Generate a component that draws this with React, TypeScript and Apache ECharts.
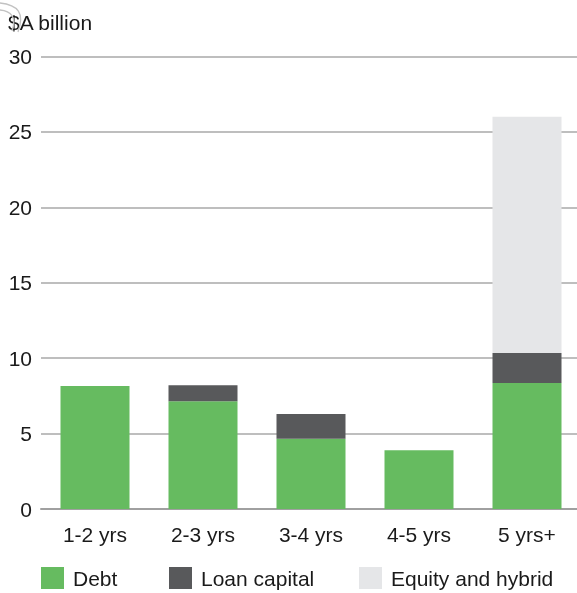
import React, { useEffect, useRef } from "react";
import * as echarts from "echarts";

const categories = ["1-2 yrs", "2-3 yrs", "3-4 yrs", "4-5 yrs", "5 yrs+"];
const debt = [8.15, 7.15, 4.65, 3.9, 8.35];
const loanCapital = [0, 1.05, 1.65, 0, 2.0];
const equityHybrid = [0, 0, 0, 0, 15.65];
const seriesNames = ["Debt", "Loan capital", "Equity and hybrid"];
const colors = ["#66bb60", "#58595b", "#e5e6e8"];
const yTicks = { min: 0, max: 30, interval: 5 };
const legendLefts = [41, 169, 359];

const FONT = "'Liberation Sans', Arial, Helvetica, sans-serif";
const TEXT = "#1a1a1a";

export default function App() {
  const ref = useRef<HTMLDivElement>(null);
  useEffect(() => {
    if (!ref.current) return;
    const chart = echarts.init(ref.current, undefined, { renderer: "svg" });
    const values = [debt, loanCapital, equityHybrid];
    chart.setOption({
      animation: false,
      textStyle: { fontFamily: FONT },
      grid: { left: 41, right: 0, top: 56.5, bottom: 84, containLabel: false },
      legend: seriesNames.map((n, i) => ({
        data: [n],
        left: legendLefts[i],
        top: 567,
        padding: 0,
        itemWidth: 23,
        itemHeight: 22,
        icon: "rect",
        selectedMode: false,
        textStyle: { fontSize: 21, color: TEXT, fontFamily: FONT, padding: [2, 0, 0, 4] },
      })),
      xAxis: {
        type: "category",
        data: categories,
        axisLine: { show: true, lineStyle: { color: "#a0a0a0", width: 2 } },
        axisTick: { show: false },
        axisLabel: { fontSize: 21, color: TEXT, margin: 15, fontFamily: FONT },
      },
      yAxis: {
        type: "value",
        min: yTicks.min,
        max: yTicks.max,
        interval: yTicks.interval,
        axisLine: { show: false },
        axisTick: { show: false },
        axisLabel: { fontSize: 21, color: TEXT, margin: 9, fontFamily: FONT, padding: [4, 0, 0, 0] },
        splitLine: { lineStyle: { color: "#a8a8a8", width: 1.5 } },
      },
      graphic: [
        {
          type: "text",
          left: 8,
          top: 12,
          style: { text: "$A billion", fontSize: 21, fill: TEXT, fontFamily: FONT },
        },
        {
          type: "bezierCurve",
          shape: { x1: 0, y1: 3, cpx1: 18, cpy1: 5, cpx2: 25, cpy2: 13, x2: 18, y2: 32 },
          style: { stroke: "#c2c2c2", lineWidth: 1.3, fill: "none" },
        },
        {
          type: "bezierCurve",
          shape: { x1: 0, y1: 10, cpx1: 11, cpx2: 17, cpy1: 11, cpy2: 17, x2: 12, y2: 31 },
          style: { stroke: "#c2c2c2", lineWidth: 1.3, fill: "none" },
        },
      ],
      series: seriesNames.map((n, i) => ({
        name: n,
        type: "bar",
        stack: "total",
        barWidth: 69,
        itemStyle: { color: colors[i] },
        data: values[i],
      })),
    });
    return () => chart.dispose();
  }, []);
  return (
    <div
      ref={ref}
      style={{ position: "fixed", left: 0, top: 0, width: 581, height: 593 }}
    />
  );
}
